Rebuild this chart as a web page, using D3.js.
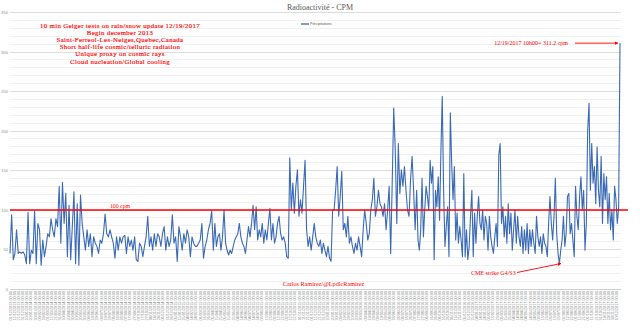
<!DOCTYPE html>
<html><head><meta charset="utf-8">
<script src="https://cdn.jsdelivr.net/npm/d3@7"></script>
<style>html,body{margin:0;padding:0;background:#fff}svg{display:block}</style>
</head><body>
<script>
const chartTitle = "Radioactivité - CPM";
const legendLabel = "Précipitations";
const yTickValues = [0, 50, 100, 150, 200, 250, 300, 350];
const thresholdCpm = 100;
const thresholdLabel = "100 cpm";
const noteLines = [
  "10 min Geiger tests on rain/snow update 12/19/2017",
  "Begin december 2013",
  "Saint-Ferreol-Les-Neiges,Quebec,Canada",
  "Short half-life cosmic/telluric radiation",
  "Unique proxy on cosmic rays",
  "Cloud nucleation/Global cooling"
];
const peakNote = "12/19/2017 10h00= 311.2 cpm";
const cmeNote = "CME strike G4/S3";
const authorNote = "Carlos Ramirez/@LpdlcRamirez";
const startDate = "2013-12-01";
const endDate = "2017-12-19";
const tickStepDays = 10;

// first third of the period
const cpmPart1 = [45,94,37,45,75,45,47,45,47,43,32,97,32,49,45,99,32,83,75,30,62,41,54,70,66,89,75,66,89,79,130,58,135,83,121,41,106,37,79,123,32,108,30,119,83,66,49,75,54,70,41,66,58,54,45,62,58,70,95,70,66,75,66,58,39,66,49,66,58,66,68,45,66,54,62,49,66,37,35,58,54,41,54,66,92,54,66,49,70,54,70,66,54,70,79,49,66,54,62,94,58,66,35,79,66,49,70,58,75,66,41,66,58,54,54,58,62,83,39,54,62,75,83,99,49];
// second third
const cpmPart2 = [83,54,66,70,49,66,100,58,49,43,49,45,54,62,66,70,83,66,58,54,45,62,79,66,83,106,75,104,62,75,66,83,58,75,62,83,102,62,83,58,66,83,92,70,62,66,58,41,39,166,100,134,96,130,151,92,113,96,130,163,75,54,66,49,66,83,66,58,54,62,45,58,49,41,54,39,35,100,100,125,155,92,117,149,75,83,66,92,58,66,54,45,58,49,66,54,41,75,100,83,62,70,100,113,140,92,104,125,108,104,92,108,75,100,130,45,134,229,176,83,184,121,151,130,155,125,100,92,138,168,125,75,125];
// last third
const cpmPart3 = [62,49,75,140,66,100,130,117,100,163,134,155,37,125,104,142,87,174,244,125,54,79,104,41,223,159,113,155,62,96,58,79,62,41,146,41,75,37,54,92,125,41,96,58,92,117,83,75,100,62,92,83,49,92,66,54,45,66,83,54,170,184,83,104,66,92,58,108,70,96,49,75,100,58,92,66,54,79,45,75,49,83,45,75,54,75,58,45,92,66,54,66,45,70,58,54,41,83,117,83,62,92,140,70,45,32,49,62,92,54,70,117,121,70,83,62,41,130,92,75,117,142,100,125,49,83,201,235,125,184,134,155,108,180,125,104,168,83,146,113,142,83,121,75,100,62,130,113,83,104,311.2];

const W = 640, H = 333;
const L = 10, R = 621, T = 12.5, B = 289;
const svg = d3.select("body").append("svg").attr("width", W).attr("height", H)
  .style("font-family", "'Liberation Serif', serif");
svg.append("rect").attr("width", W).attr("height", H).attr("fill", "#fff");

const y = d3.scaleLinear().domain([0, 350]).range([B, T]);
const minorTicks = d3.range(0, 351, 10);

// gridlines
svg.append("g").selectAll("line").data(minorTicks.filter(v => v % 50 !== 0)).join("line")
  .attr("x1", L).attr("x2", R).attr("y1", d => y(d)).attr("y2", d => y(d))
  .attr("stroke", "#f0f0f0").attr("stroke-width", 1).attr("shape-rendering", "crispEdges");
svg.append("g").selectAll("line").data(yTickValues).join("line")
  .attr("x1", L).attr("x2", R).attr("y1", d => y(d)).attr("y2", d => y(d))
  .attr("stroke", d => d === 0 ? "#cfcfcf" : "#dedede").attr("stroke-width", 1).attr("shape-rendering", "crispEdges");

// y labels
const yAxis = d3.axisLeft(y).tickValues(yTickValues).tickSize(0).tickPadding(2);
const gy = svg.append("g").attr("transform", `translate(${L},0)`).call(yAxis);
gy.select(".domain").remove();
gy.selectAll("text").attr("font-size", 4).attr("fill", "#8c8c8c").attr("font-family", "'Liberation Sans', sans-serif");

// x axis (dates)
const parse = d3.utcParse("%Y-%m-%d");
const t0 = parse(startDate), t1 = parse(endDate);
const xt = d3.scaleUtc().domain([t0, t1]).range([L, R - 1]);
const tickDates = d3.utcDay.range(t0, t1, tickStepDays);
const fmt = d3.utcFormat("%d/%m/%Y %H:%M");
const xAxis = d3.axisBottom(xt).tickValues(tickDates).tickSize(0).tickFormat(fmt);
const gx = svg.append("g").attr("transform", `translate(0,${B})`).call(xAxis);
gx.select(".domain").remove();
gx.selectAll("text").attr("font-size", 3.8).attr("fill", "#8a8a8a")
  .attr("font-family", "'Liberation Sans', sans-serif")
  .attr("text-anchor", "end").attr("transform", "rotate(-90)")
  .attr("x", -2).attr("y", 0).attr("dy", "0.35em");

// data line
const all = cpmPart1.concat(cpmPart2, cpmPart3);
const n1 = cpmPart1.length, n2 = cpmPart2.length, N = all.length;
const w = (R - 1) - L;
const x = d3.scaleLinear().domain([0, n1 - 1, n1 + n2 - 1, N - 1])
  .range([L, L + w / 3, L + 2 * w / 3, L + w]);
svg.append("path").datum(all)
  .attr("d", d3.line().x((d, i) => x(i)).y(d => y(d)))
  .attr("fill", "none").attr("stroke", "#3a6ab5").attr("stroke-width", 1.1)
  .attr("stroke-linejoin", "round");

// threshold line
svg.append("line").attr("x1", L).attr("x2", 628).attr("y1", y(thresholdCpm)).attr("y2", y(thresholdCpm))
  .attr("stroke", "#ff0000").attr("stroke-width", 1.5);
svg.append("text").attr("x", 120).attr("y", y(thresholdCpm) - 2).attr("text-anchor", "middle")
  .attr("font-size", 5.8).attr("fill", "#ff0000").text(thresholdLabel);

// title
svg.append("text").attr("x", 320).attr("y", 10).attr("text-anchor", "middle")
  .attr("font-size", 8).attr("fill", "#595959").text(chartTitle);

// legend
svg.append("line").attr("x1", 301).attr("x2", 309).attr("y1", 24).attr("y2", 24)
  .attr("stroke", "#3a6ab5").attr("stroke-width", 1.3);
svg.append("text").attr("x", 310).attr("y", 25.3).attr("font-size", 3.6)
  .attr("font-family", "'Liberation Sans', sans-serif").attr("fill", "#595959").text(legendLabel);

// note block
svg.append("g").selectAll("text").data(noteLines).join("text")
  .attr("x", 120).attr("y", (d, i) => 27.5 + i * 7.2).attr("text-anchor", "middle")
  .attr("font-size", 6.8).attr("letter-spacing", 0.35).attr("fill", "#ff0000")
  .attr("stroke", "#ff0000").attr("stroke-width", 0.15).text(d => d);

// arrow marker
const defs = svg.append("defs");
defs.append("marker").attr("id", "ah").attr("viewBox", "0 0 10 10").attr("refX", 9).attr("refY", 5)
  .attr("markerWidth", 4).attr("markerHeight", 4).attr("orient", "auto")
  .append("path").attr("d", "M0,0L10,5L0,10z").attr("fill", "#ff0000");

// peak note
const peakY = y(all[N - 1]);
svg.append("text").attr("x", 568).attr("y", peakY + 1.8).attr("text-anchor", "end")
  .attr("font-size", 6).attr("fill", "#ff0000").text(peakNote);
svg.append("line").attr("x1", 575).attr("x2", 618).attr("y1", peakY).attr("y2", peakY)
  .attr("stroke", "#ff0000").attr("stroke-width", 0.9).attr("marker-end", "url(#ah)");

// CME note
svg.append("text").attr("x", 471).attr("y", 274.5).attr("font-size", 6).attr("fill", "#ff0000").text(cmeNote);
svg.append("line").attr("x1", 517).attr("y1", 272.5).attr("x2", 561).attr("y2", 263.5)
  .attr("stroke", "#ff0000").attr("stroke-width", 0.9).attr("marker-end", "url(#ah)");

// author
svg.append("text").attr("x", 323.5).attr("y", 285.8).attr("text-anchor", "middle")
  .attr("font-size", 6.2).attr("fill", "#ff0000").text(authorNote);
</script>
</body></html>
